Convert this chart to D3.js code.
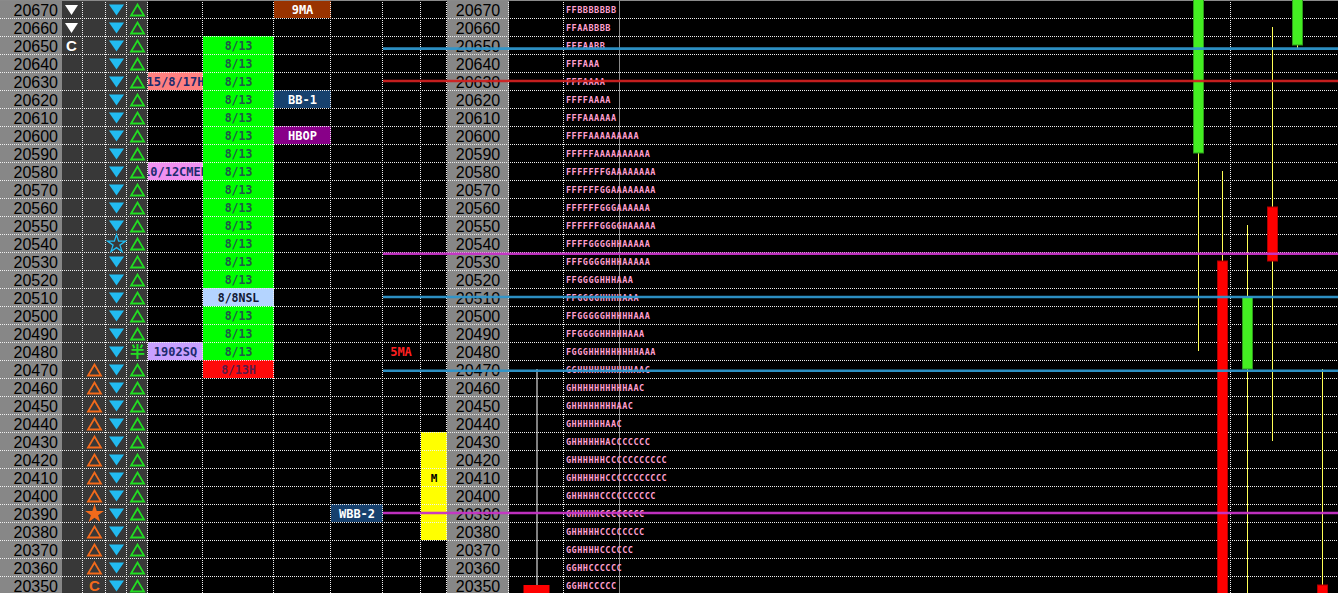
<!DOCTYPE html>
<html><head><meta charset="utf-8">
<script src="https://cdn.jsdelivr.net/npm/d3@7/dist/d3.min.js"></script>
<style>body{margin:0;background:#000;overflow:hidden}svg{display:block}</style>
</head><body><svg id="c" width="1338" height="593"></svg>
<script>
// ---------- data ----------
const prices = [20670,20660,20650,20640,20630,20620,20610,20600,20590,20580,20570,20560,20550,20540,20530,20520,20510,20500,20490,20480,20470,20460,20450,20440,20430,20420,20410,20400,20390,20380,20370,20360,20350];
const markWhite = [[20670,"down"],[20660,"down"],[20650,"C"]];
const markOrange = [[20470,"tri"],[20460,"tri"],[20450,"tri"],[20440,"tri"],[20430,"tri"],[20420,"tri"],[20410,"tri"],[20400,"tri"],[20390,"star"],[20380,"tri"],[20370,"tri"],[20360,"tri"],[20350,"C"]];
const markCyanStar = [20540];
const markGreenKanji = [[20480,"半"]];
const labelBoxes = [[20630,"15/8/17H","#ff8080"],[20580,"10/12CMEH","#f090f0"],[20480,"1902SQ","#c8a0ff"]];
const dateCells = [[20650,"8/13"],[20640,"8/13"],[20630,"8/13"],[20620,"8/13"],[20610,"8/13"],[20600,"8/13"],[20590,"8/13"],[20580,"8/13"],[20570,"8/13"],[20560,"8/13"],[20550,"8/13"],[20540,"8/13"],[20530,"8/13"],[20520,"8/13"],[20510,"8/8NSL"],[20500,"8/13"],[20490,"8/13"],[20480,"8/13"],[20470,"8/13H"]];
const maBoxes = [[20670,"9MA","#993300"],[20620,"BB-1","#17416e"],[20600,"HBOP","#880088"]];
const wbbBoxes = [[20390,"WBB-2","#17416e"]];
const ma5Labels = [[20480,"5MA"]];
const yellowRows = [20430,20420,20410,20400,20390,20380];
const yellowText = [[20410,"M"]];
const profile = ["FFBBBBBBB","FFAABBBB","FFFAABB","FFFAAA","FFFAAAA","FFFFAAAA","FFFAAAAAA","FFFFAAAAAAAAA","FFFFFAAAAAAAAAA","FFFFFFFGAAAAAAAA","FFFFFFGGAAAAAAAA","FFFFFFGGGAAAAAA","FFFFFFGGGGHAAAAA","FFFFGGGGHHAAAAA","FFFGGGGHHHAAAAA","FFGGGGHHHAAA","FFGGGGHHHHAAA","FFGGGGGHHHHHAAA","FFGGGGHHHHHAAA","FGGGHHHHHHHHHAAA","GGHHHHHHHHHHAAC","GHHHHHHHHHHAAC","GHHHHHHHHAAC","GHHHHHHAAC","GHHHHHHACCCCCCC","GHHHHHHCCCCCCCCCCC","GHHHHHHCCCCCCCCCCC","GHHHHHCCCCCCCCCC","GHHHHHCCCCCCCC","GHHHHHCCCCCCCC","GGHHHHCCCCCC","GGHHCCCCCC","GGHHCCCCC"];
const levelPrices = [20648,20630,20534,20510,20469,20390];
const levelColors = ["#2f96cc","#d02020","#c833c8","#2f96cc","#2f96cc","#c833c8"];
const candleOpen  = [20590,20530,20470,20560,20650,20350];
const candleClose = [20690,20330,20510,20530,20690,20330];
const candleHigh  = [20690,20580,20550,20660,20690,20470];
const candleLow   = [20480,20330,20330,20430,20648,20330];
const miniOpen = [20350], miniClose = [20330], miniHigh = [20470], miniLow = [20330];

// ---------- layout ----------
const W = 1338, H = 593, RH = 18;
const svg = d3.select("#c");
const y = d3.scaleLinear().domain([20670,20350]).range([9,585]);
const col = {p1:[0,62], b:[62,83], c:[83,106], d:[106,127], e:[127,148], lab:[148,203], dt:[203,274], ma:[274,331], wbb:[331,383], m5:[383,421], yel:[421,447], p2:[447,509], mini:[509,564], prof:[564,620]};
const cx = k => (col[k][0]+col[k][1])/2;
const mono = "'DejaVu Sans Mono', 'Liberation Mono', monospace";

svg.append("rect").attr("width",W).attr("height",H).attr("fill","#000");
svg.append("rect").attr("x",col.p1[0]).attr("width",col.p1[1]-col.p1[0]).attr("height",H).attr("fill","#878787");
svg.append("rect").attr("x",col.b[0]).attr("width",col.e[1]-col.b[0]).attr("height",H).attr("fill","#383838");
svg.append("rect").attr("x",col.p2[0]).attr("width",col.p2[1]-col.p2[0]).attr("height",H).attr("fill","#878787");

function cell(g, k, p, fill){
  g.append("rect").attr("x",col[k][0]).attr("y",y(p)-RH/2).attr("width",col[k][1]-col[k][0]).attr("height",RH).attr("fill",fill);
}
const gCells = svg.append("g");
labelBoxes.forEach(d=>cell(gCells,"lab",d[0],d[2]));
dateCells.forEach(d=>cell(gCells,"dt",d[0], d[1].includes("NSL")?"#b4d4ff":(d[1].endsWith("H")?"#ff0a0a":"#00ff00")));
maBoxes.forEach(d=>cell(gCells,"ma",d[0],d[2]));
wbbBoxes.forEach(d=>cell(gCells,"wbb",d[0],d[2]));
yellowRows.forEach(p=>cell(gCells,"yel",p,"#ffff00"));

// dotted grid
const gGrid = svg.append("g").attr("stroke","#f0f0f0").attr("stroke-dasharray","1,1").attr("stroke-width",1);
prices.slice(1).forEach(p=>{
  const yy = Math.round(y(p)-RH/2)+0.5;
  gGrid.append("line").attr("x1",0).attr("x2",W).attr("y1",yy).attr("y2",yy);
});
[82.5,105.5,126.5,147.5,202.5,273.5,330.5,382.5,420.5,446.5,508.5,563.5,1230.5].forEach(x=>{
  gGrid.append("line").attr("x1",x).attr("x2",x).attr("y1",0).attr("y2",H);
});
svg.append("line").attr("x1",619.5).attr("x2",619.5).attr("y1",0).attr("y2",H).attr("stroke","#8a8a8a");
svg.append("line").attr("x1",0).attr("x2",W).attr("y1",0.5).attr("y2",0.5).attr("stroke","#8a8a8a");

// price labels
svg.append("g").selectAll("text").data(prices).join("text")
  .attr("x",58).attr("y",p=>y(p)+6.5).attr("text-anchor","end")
  .attr("font-family","'Liberation Sans', Arial, sans-serif").attr("font-size",16).attr("fill","#000").text(p=>p);
svg.append("g").selectAll("text").data(prices).join("text")
  .attr("x",cx("p2")).attr("y",p=>y(p)+6.5).attr("text-anchor","middle")
  .attr("font-family","'Liberation Sans', Arial, sans-serif").attr("font-size",16).attr("fill","#000").text(p=>p);

// symbols
function downTri(x,yc,w,h){return `M${x-w/2},${yc-h/2}L${x+w/2},${yc-h/2}L${x},${yc+h/2}Z`;}
function upTri(x,yc,w,h){return `M${x-w/2},${yc+h/2}L${x+w/2},${yc+h/2}L${x},${yc-h/2}Z`;}
const gSym = svg.append("g");
markWhite.forEach(([p,s])=>{
  if(s==="down") gSym.append("path").attr("d",downTri(cx("b")-1,y(p)+1,13,10)).attr("fill","#fff");
  else gSym.append("text").attr("x",cx("b")-1).attr("y",y(p)+6).attr("text-anchor","middle").attr("font-family","'Liberation Sans',sans-serif").attr("font-weight","bold").attr("font-size",15).attr("fill","#fff").text(s);
});
const ORANGE = "#f26a1b";
markOrange.forEach(([p,s])=>{
  if(s==="tri") gSym.append("path").attr("d",upTri(cx("c"),y(p)+1,13,11)).attr("fill","none").attr("stroke",ORANGE).attr("stroke-width",1.8);
  else if(s==="star") gSym.append("path").attr("d",d3.symbol(d3.symbolStar,110)()).attr("transform",`translate(${cx("c")},${y(p)+1})`).attr("fill",ORANGE);
  else gSym.append("text").attr("x",cx("c")).attr("y",y(p)+6).attr("text-anchor","middle").attr("font-family","'Liberation Sans',sans-serif").attr("font-weight","bold").attr("font-size",15).attr("fill",ORANGE).text(s);
});
prices.forEach(p=>{
  if(markCyanStar.includes(p)) gSym.append("path").attr("d",d3.symbol(d3.symbolStar,100)()).attr("transform",`translate(${cx("d")},${y(p)+1})`).attr("fill","none").attr("stroke","#22bbf0").attr("stroke-width",1.3);
  else gSym.append("path").attr("d",downTri(cx("d"),y(p)+1,15,11)).attr("fill","#22bbf0");
});
prices.forEach(p=>{
  const k = markGreenKanji.find(d=>d[0]===p);
  if(k) gSym.append("text").attr("x",cx("e")).attr("y",y(p)+6).attr("text-anchor","middle").attr("font-family","'Noto Sans CJK JP',sans-serif").attr("font-weight","bold").attr("font-size",15).attr("fill","#22dd22").text(k[1]);
  else gSym.append("path").attr("d",upTri(cx("e"),y(p)+1,13,11)).attr("fill","none").attr("stroke","#22dd22").attr("stroke-width",1.8);
});

// cell texts
svg.append("clipPath").attr("id","clipLab").append("rect").attr("x",col.lab[0]).attr("y",0).attr("width",col.lab[1]-col.lab[0]).attr("height",H);
svg.append("g").attr("clip-path","url(#clipLab)").selectAll("text").data(labelBoxes).join("text")
  .attr("x",cx("lab")).attr("y",d=>y(d[0])+5).attr("text-anchor","middle")
  .attr("font-family",mono).attr("font-weight","bold").attr("font-size",12).attr("fill","#1c2a6e").text(d=>d[1]);
svg.append("g").selectAll("text").data(dateCells).join("text")
  .attr("x",cx("dt")).attr("y",d=>y(d[0])+4.5).attr("text-anchor","middle")
  .attr("font-family",mono).attr("font-weight","bold").attr("font-size",11.5)
  .attr("fill",d=>d[1].includes("NSL")?"#111833":(d[1].endsWith("H")?"#5a1a4a":"#1f5a48")).text(d=>d[1]);
svg.append("g").selectAll("text").data(maBoxes.concat(wbbBoxes.map(d=>d.concat(["wbb"])))).join("text")
  .attr("x",d=>d[3]==="wbb"?cx("wbb"):cx("ma")).attr("y",d=>y(d[0])+5).attr("text-anchor","middle")
  .attr("font-family",mono).attr("font-weight","bold").attr("font-size",12).attr("fill","#fff").text(d=>d[1]);
svg.append("g").selectAll("text").data(ma5Labels).join("text")
  .attr("x",cx("m5")-1).attr("y",d=>y(d[0])+5).attr("text-anchor","middle")
  .attr("font-family",mono).attr("font-weight","bold").attr("font-size",12).attr("fill","#ff2020").text(d=>d[1]);
svg.append("g").selectAll("text").data(yellowText).join("text")
  .attr("x",cx("yel")).attr("y",d=>y(d[0])+5).attr("text-anchor","middle")
  .attr("font-family",mono).attr("font-weight","bold").attr("font-size",11).attr("fill","#000").text(d=>d[1]);

// profile letters
svg.append("g").selectAll("text").data(profile).join("text")
  .attr("x",566).attr("y",(d,i)=>y(prices[i])+3.8)
  .attr("font-family",mono).attr("font-weight","bold").attr("font-size",8.5).attr("letter-spacing",0.5)
  .attr("fill","#ff9fcf").text(d=>d);

// mini candle
const mx = cx("mini");
miniHigh.forEach((h,i)=>{
  svg.append("line").attr("x1",mx+0.5).attr("x2",mx+0.5).attr("y1",y(h)).attr("y2",y(miniOpen[i])).attr("stroke","#fff");
  svg.append("rect").attr("x",mx-13).attr("y",y(miniOpen[i])).attr("width",26).attr("height",y(miniClose[i])-y(miniOpen[i])).attr("fill","#ff0000");
});

// candles
const xc = d3.scaleLinear().domain([0,5]).range([1197.5,1321.5]);
const gC = svg.append("g");
candleOpen.forEach((o,i)=>{
  const c = candleClose[i], up = c>o, x = Math.round(xc(i));
  gC.append("line").attr("x1",x+0.5).attr("x2",x+0.5).attr("y1",y(candleHigh[i])).attr("y2",y(candleLow[i])).attr("stroke","#ffff55");
  gC.append("rect").attr("x",x-4.5).attr("y",y(Math.max(o,c))).attr("width",10).attr("height",Math.abs(y(o)-y(c)))
    .attr("fill",up?"#44ee22":"#ff0000").attr("stroke",up?"#2f9a1c":"#b00000").attr("stroke-width",1);
});

// level lines
svg.append("g").selectAll("line").data(levelPrices).join("line")
  .attr("x1",383).attr("x2",W).attr("y1",p=>y(p)).attr("y2",p=>y(p))
  .attr("stroke",(p,i)=>levelColors[i]).attr("stroke-width",2.6).attr("opacity",0.95);
</script></body></html>
